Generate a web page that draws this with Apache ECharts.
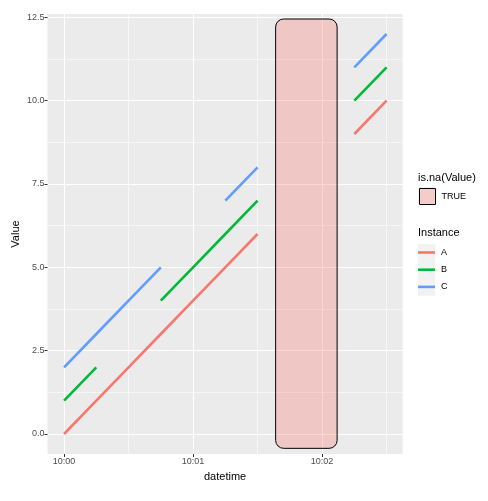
<!DOCTYPE html>
<html>
<head>
<meta charset="utf-8">
<script src="https://cdn.jsdelivr.net/npm/echarts@6/dist/echarts.min.js"></script>
<style>
  html, body { margin: 0; padding: 0; background: #fff; }
  #chart { width: 488px; height: 501px; }
</style>
</head>
<body>
<div id="chart"></div>
<script>
// seconds after 10:00:00
const times = [0, 15, 30, 45, 60, 75, 90, 105, 120, 135, 150]
const valuesA = [0, 1, 2, 3, 4, 5, 6, '-', '-', 9, 10]
const valuesB = [1, 2, '-', 4, 5, 6, 7, '-', '-', 10, 11]
const valuesC = [2, 3, 4, 5, '-', 7, 8, '-', '-', 11, 12]
const instances = ['A', 'B', 'C']
const colors = ['#F8766D', '#00BA38', '#619CFF']
// shaded NA region [xmin, xmax, ymin, ymax]
const naRect = [98.4, 127, -0.43, 12.45]
const xMajor = [0, 60, 120]
const xMajorLabels = ['10:00', '10:01', '10:02']
const xMinor = [30, 90, 150]
const yMajor = [0, 2.5, 5, 7.5, 10, 12.5]
const yMinor = [1.25, 3.75, 6.25, 8.75, 11.25]

const font = 'Liberation Sans, Arial, sans-serif'
const chart = echarts.init(document.getElementById('chart'))

function pairs(vals) {
  return times.map(function (t, i) { return [t, vals[i]] })
}

const lineSeries = [valuesA, valuesB, valuesC].map(function (vals, i) {
  return {
    name: instances[i],
    type: 'line',
    data: pairs(vals),
    symbol: 'none',
    showSymbol: false,
    connectNulls: false,
    lineStyle: { color: colors[i], width: 2.6, cap: 'butt' },
    itemStyle: { color: colors[i] },
    animation: false,
    z: 3
  }
})

const lineIcon = 'path://M0,0H17V2.6H0Z'

const option = {
  backgroundColor: '#fff',
  animation: false,
  grid: {
    left: 47.5, top: 14, right: 85.3, bottom: 47,
    outerBoundsMode: 'none', containLabel: false,
    backgroundColor: '#EBEBEB', show: true, borderWidth: 0
  },
  xAxis: [{
    type: 'value',
    min: -7.7,
    max: 157.5,
    name: 'datetime',
    nameLocation: 'middle',
    nameGap: 17,
    nameMoveOverlap: false,
    nameTextStyle: { fontFamily: font, fontSize: 11, color: '#000' },
    axisLine: { show: false, onZero: false },
    axisTick: { show: true, length: 3, customValues: xMajor, lineStyle: { color: '#333', width: 1 } },
    axisLabel: {
      customValues: xMajor,
      margin: 3,
      fontFamily: font, fontSize: 9, color: '#4D4D4D',
      formatter: function (v) { return xMajorLabels[xMajor.indexOf(v)] }
    },
    splitLine: { show: true, lineStyle: { color: '#fff', width: 1.1 } }
  }, {
    type: 'value',
    min: -7.7,
    max: 157.5,
    position: 'bottom',
    axisLine: { show: false, onZero: false },
    axisTick: { show: false, customValues: xMinor },
    axisLabel: { show: false, customValues: xMinor },
    splitLine: { show: true, lineStyle: { color: '#fff', width: 0.55 } }
  }],
  yAxis: [{
    type: 'value',
    min: -0.6,
    max: 12.6,
    name: 'Value',
    nameLocation: 'middle',
    nameGap: 26,
    nameMoveOverlap: false,
    nameTextStyle: { fontFamily: font, fontSize: 11, color: '#000' },
    axisLine: { show: false, onZero: false },
    axisTick: { show: true, length: 3, customValues: yMajor, lineStyle: { color: '#333', width: 1 } },
    axisLabel: {
      customValues: yMajor,
      margin: 3,
      fontFamily: font, fontSize: 9, color: '#4D4D4D',
      formatter: function (v) { return v.toFixed(1) }
    },
    splitLine: { show: true, lineStyle: { color: '#fff', width: 1.1 } }
  }, {
    type: 'value',
    min: -0.6,
    max: 12.6,
    position: 'left',
    axisLine: { show: false, onZero: false },
    axisTick: { show: false, customValues: yMinor },
    axisLabel: { show: false, customValues: yMinor },
    splitLine: { show: true, lineStyle: { color: '#fff', width: 0.55 } }
  }],
  legend: [{
    data: [{ name: 'TRUE', icon: 'rect', itemStyle: { color: 'rgba(248,118,109,0.3)', borderColor: '#000', borderWidth: 1 } }],
    orient: 'vertical',
    left: 419,
    top: 188,
    itemWidth: 16,
    itemHeight: 16,
    itemGap: 0,
    selectedMode: false,
    textStyle: { fontFamily: font, fontSize: 9, color: '#000', padding: [0, 0, 0, 1] },
    padding: 0
  }, {
    data: instances.map(function (n, i) {
      return { name: n, icon: lineIcon, itemStyle: { color: colors[i], borderWidth: 0 } }
    }),
    orient: 'vertical',
    left: 418,
    top: 248,
    itemWidth: 17,
    itemHeight: 17,
    itemGap: 8.2,
    selectedMode: false,
    textStyle: { fontFamily: font, fontSize: 9, color: '#000', padding: [0, 0, 0, 1] },
    padding: 0
  }],
  graphic: [
    { type: 'rect', left: 418, top: 187, shape: { width: 17.3, height: 17.3 }, style: { fill: '#F2F2F2' }, z: 0 },
    { type: 'rect', left: 418, top: 244, shape: { width: 17.3, height: 51.8 }, style: { fill: '#F2F2F2' }, z: 0 },
    { type: 'text', left: 418, top: 172, style: { text: 'is.na(Value)', font: '11px ' + font, fill: '#000' } },
    { type: 'text', left: 418, top: 227, style: { text: 'Instance', font: '11px ' + font, fill: '#000' } }
  ],
  series: [{
    name: 'TRUE',
    type: 'custom',
    data: [naRect],
    renderItem: function (params, api) {
      const p0 = api.coord([api.value(0), api.value(3)])
      const p1 = api.coord([api.value(1), api.value(2)])
      return {
        type: 'rect',
        shape: { x: p0[0], y: p0[1], width: p1[0] - p0[0], height: p1[1] - p0[1], r: 8 },
        style: { fill: 'rgba(248,118,109,0.3)', stroke: '#000', lineWidth: 1 }
      }
    },
    itemStyle: { color: 'rgba(248,118,109,0.3)' },
    z: 2
  }].concat(lineSeries)
}

chart.setOption(option)
</script>
</body>
</html>
